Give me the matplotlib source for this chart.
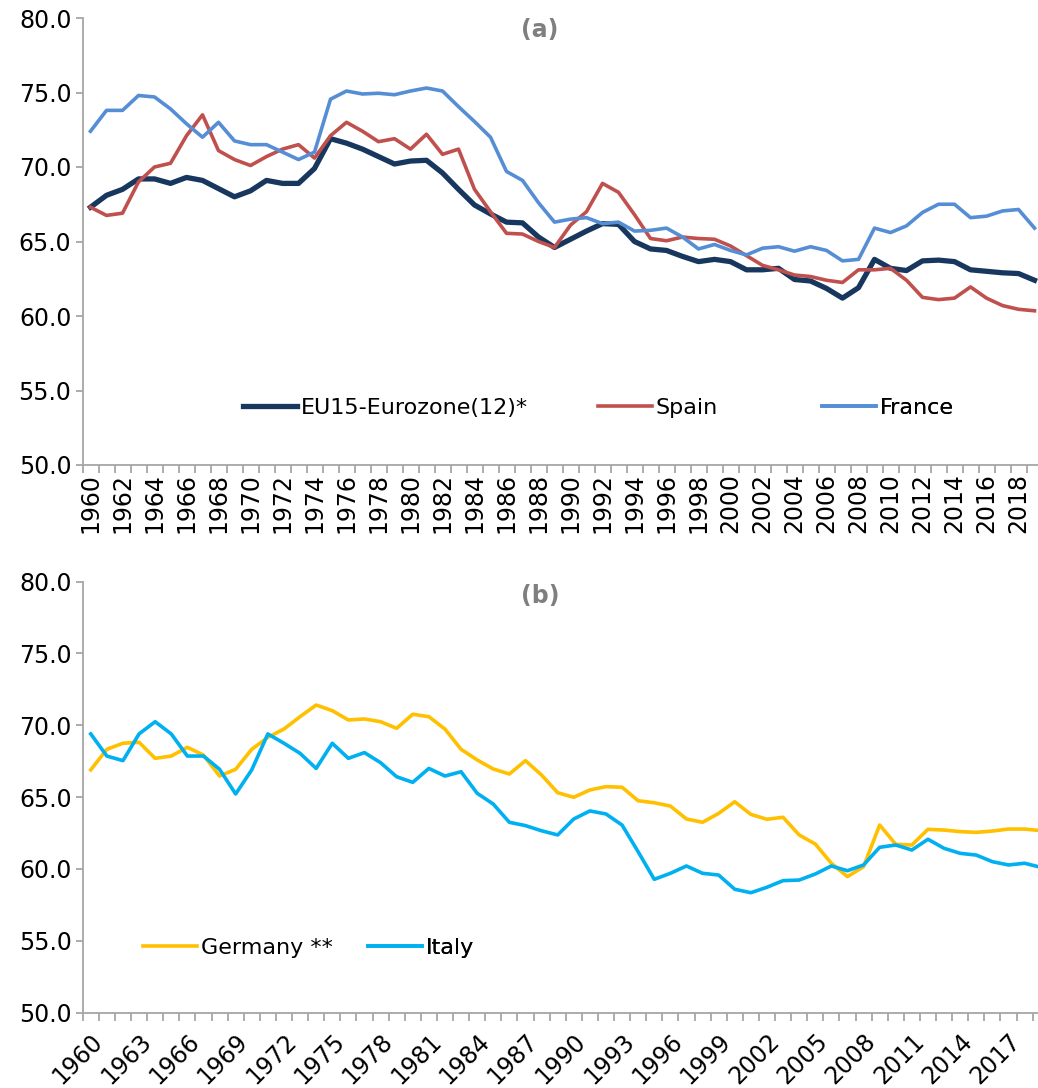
import numpy as np
import matplotlib
matplotlib.use('Agg')
import matplotlib.pyplot as plt
from matplotlib.ticker import FixedLocator

plt.rcParams['font.family'] = ['DejaVu Sans']

years = list(range(1960, 2020))

# (a) panel
eu15 = [67.3, 68.1, 68.5, 69.2, 69.2, 68.9, 69.3, 69.1, 68.55, 68.0,
        68.4, 69.1, 68.9, 68.9, 69.9, 71.9, 71.6, 71.2, 70.7, 70.2,
        70.4, 70.45, 69.6, 68.5, 67.45, 66.85, 66.3, 66.25, 65.3, 64.6,
        65.15, 65.7, 66.2, 66.15, 65.0, 64.5, 64.4, 64.0, 63.65, 63.8,
        63.65, 63.1, 63.1, 63.2, 62.45, 62.35, 61.85, 61.2, 61.9, 63.8,
        63.2, 63.05, 63.7, 63.75, 63.65, 63.1, 63.0, 62.9, 62.85, 62.4]
spain = [67.3, 66.75, 66.9, 69.0, 70.0, 70.25, 72.1, 73.5, 71.1, 70.5,
         70.1, 70.7, 71.2, 71.5, 70.6, 72.1, 73.0, 72.4, 71.7, 71.9,
         71.2, 72.2, 70.85, 71.2, 68.5, 67.0, 65.55, 65.5, 65.0, 64.6,
         66.1, 67.0, 68.9, 68.3, 66.8, 65.2, 65.05, 65.3, 65.2, 65.15,
         64.7, 64.05, 63.4, 63.1, 62.75, 62.65, 62.4, 62.25, 63.1, 63.1,
         63.2, 62.4, 61.25, 61.1, 61.2, 61.95, 61.2, 60.7, 60.45, 60.35]
france = [72.4, 73.8, 73.8, 74.8, 74.7, 73.9, 72.9, 72.0, 73.0, 71.75,
          71.5, 71.5, 71.0, 70.5, 71.0, 74.55, 75.1, 74.9, 74.95, 74.85,
          75.1, 75.3, 75.1, 74.05, 73.05, 72.0, 69.7, 69.1, 67.6, 66.3,
          66.5, 66.6, 66.2, 66.3, 65.7, 65.75, 65.9, 65.3, 64.5, 64.8,
          64.4, 64.1, 64.55, 64.65, 64.35, 64.65, 64.4, 63.7, 63.8, 65.9,
          65.6, 66.05, 66.95, 67.5, 67.5, 66.6, 66.7, 67.05, 67.15, 65.9]

# (b) panel
germany = [66.9, 68.33, 68.75, 68.82, 67.7, 67.86, 68.47, 67.93, 66.47, 66.94,
           68.33, 69.16, 69.74, 70.6, 71.41, 71.02, 70.37, 70.44, 70.25, 69.79,
           70.77, 70.6, 69.74, 68.33, 67.59, 66.96, 66.61, 67.54, 66.54, 65.31,
           64.99, 65.5, 65.73, 65.69, 64.75, 64.61, 64.38, 63.48, 63.25, 63.87,
           64.68, 63.8, 63.46, 63.6, 62.37, 61.74, 60.4, 59.47, 60.16, 63.06,
           61.72, 61.67, 62.76, 62.71, 62.6, 62.55, 62.64, 62.78, 62.78, 62.67]
italy = [69.4, 67.86, 67.54, 69.4, 70.25, 69.4, 67.86, 67.86, 66.94, 65.22,
         66.9, 69.4, 68.75, 68.05, 67.0, 68.75, 67.7, 68.1, 67.4, 66.42,
         66.03, 67.0, 66.47, 66.77, 65.27, 64.52, 63.25, 63.02, 62.66, 62.37,
         63.48, 64.04, 63.83, 63.06, 61.2, 59.28, 59.7, 60.21, 59.7, 59.58,
         58.59, 58.35, 58.73, 59.19, 59.23, 59.65, 60.21, 59.88, 60.28, 61.51,
         61.67, 61.32, 62.07, 61.44, 61.09, 60.97, 60.51, 60.28, 60.4, 60.12]

W, H = 1038, 1088
grey = '#A6A6A6'
fs = 17

fig = plt.figure(figsize=(W / 100, H / 100), dpi=100)
ax1 = fig.add_axes([82.5 / W, 1 - 465 / H, 960 / W, 447 / H])
ax2 = fig.add_axes([82.7 / W, 1 - 1012.7 / H, 966 / W, 431.1 / H])

x = np.arange(len(years))


def style(ax, step):
    ax.set_xlim(-0.5, len(years) - 0.5)
    ax.set_ylim(50, 80)
    for s in ['top', 'right']:
        ax.spines[s].set_visible(False)
    for s in ['left', 'bottom']:
        ax.spines[s].set_color(grey)
        ax.spines[s].set_linewidth(1.3)
    ax.set_yticks(np.arange(50, 81, 5))
    ax.set_yticklabels(['%.1f' % v for v in np.arange(50, 81, 5)], fontsize=fs)
    ax.tick_params(axis='y', length=5, width=1.3, color=grey, pad=3)
    ax.xaxis.set_minor_locator(FixedLocator(np.arange(-0.5, len(years), 1)))
    ax.tick_params(axis='x', which='minor', length=6, width=1.3, color=grey)
    ax.set_xticks(x[::step])


ax1.plot(x, eu15, color='#17375E', lw=3.8, label='EU15-Eurozone(12)*', solid_joinstyle='round')
ax1.plot(x, spain, color='#C0504D', lw=2.6, label='Spain')
ax1.plot(x, france, color='#558ED5', lw=2.6, label='France')
style(ax1, 2)
ax1.set_xticklabels([str(y) for y in years[::2]], rotation=90, fontsize=fs)
ax1.tick_params(axis='x', which='major', length=0, pad=6)

ax2.plot(x, germany, color='#FFC000', lw=2.6, label='Germany **')
ax2.plot(x, italy, color='#00B0F0', lw=2.6, label='Italy')
style(ax2, 3)
ax2.set_xticklabels([str(y) for y in years[::3]], rotation=45, fontsize=fs,
                    ha='right', va='top', rotation_mode='anchor')
ax2.tick_params(axis='x', which='major', length=0, pad=12)

# legends, one per entry so they sit where they are in the original
def leg(ax, line, xpx, ypx):
    l = ax.legend(handles=[line], loc='center left', bbox_to_anchor=(xpx / W, 1 - ypx / H),
                  bbox_transform=fig.transFigure, frameon=False, fontsize=16,
                  handlelength=2.45, handletextpad=0.15, borderpad=0, borderaxespad=0)
    ax.add_artist(l)

lines1 = ax1.get_lines()
leg(ax1, lines1[0], 243, 408)
leg(ax1, lines1[1], 598, 408)
leg(ax1, lines1[2], 822, 408)
lines2 = ax2.get_lines()
leg(ax2, lines2[0], 143, 948)
leg(ax2, lines2[1], 368, 948)

fig.text(540 / W, 1 - 30 / H, '(a)', ha='center', va='center', fontsize=fs,
         fontweight='bold', color='#7F7F7F')
fig.text(540 / W, 1 - 596 / H, '(b)', ha='center', va='center', fontsize=fs,
         fontweight='bold', color='#7F7F7F')

fig.savefig('out.png', dpi=100)
